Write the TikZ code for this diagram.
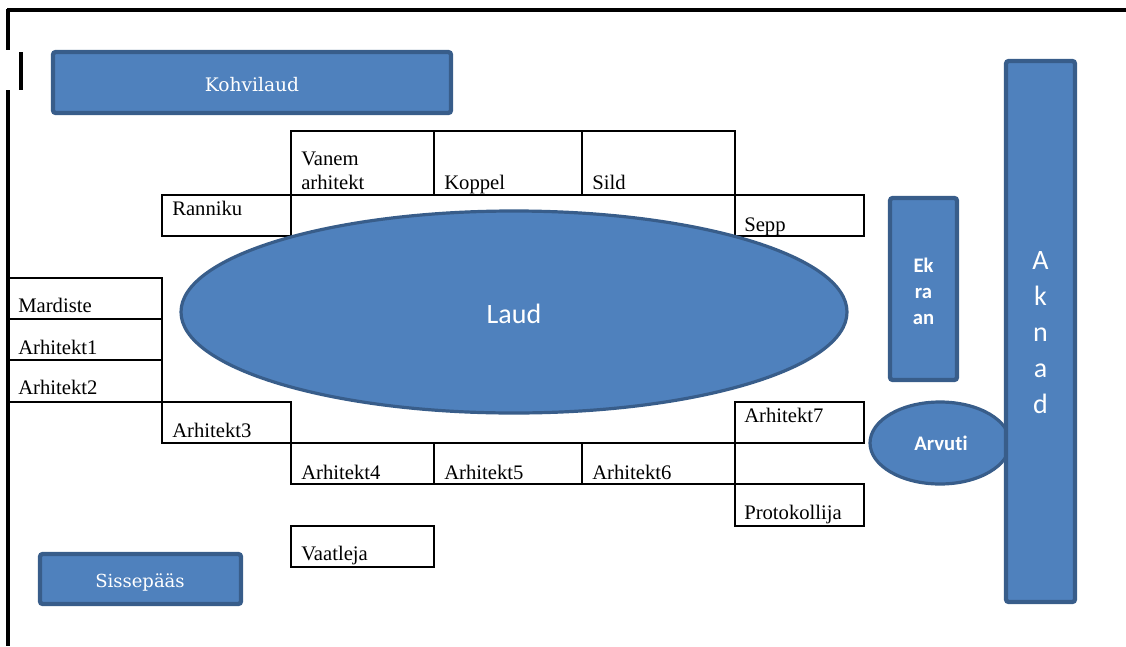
\documentclass[tikz,border=0pt]{standalone}
\usepackage{fontspec}
\setmainfont{Liberation Serif}
\newfontfamily\calfont[Ligatures=NoCommon]{Carlito}
\newfontfamily\slabfont{DejaVu Serif}
\usepackage{xcolor}
\definecolor{shapeblue}{HTML}{4F81BD}
\definecolor{shapeedge}{HTML}{385D8A}

\begin{document}
\begin{tikzpicture}[x=0.75pt, y=-0.75pt,
    cell/.style={draw=black, line width=1.5pt},
    lbl/.style={anchor=base west, inner sep=0pt, font=\fontsize{15.5}{18}\selectfont},
    wall/.style={draw=black, line width=2.4pt},
    bluebox/.style={fill=shapeblue, draw=shapeedge, line width=3.2pt, rounded corners=2pt},
    blueoval/.style={fill=shapeblue, draw=shapeedge, line width=2.4pt},
    whitetext/.style={text=white, inner sep=0pt}]
    \useasboundingbox (0,0) rectangle (1126,646);
    % walls and door
    \draw[wall] (7,10) -- (1126,10);
    \draw[wall] (8,9) -- (8,50);
    \draw[wall] (8,90) -- (8,646);
    \draw[wall] (21,52) -- (21,90);
    % coffee table and entrance
    \draw[bluebox] (53,52) rectangle (451,113);
    \node[whitetext, font=\slabfont\fontsize{14}{16}\selectfont] (kohvilaud) at (252,85) {Kohvilaud};
    \draw[bluebox] (40,554) rectangle (241,604);
    \node[whitetext, font=\slabfont\fontsize{13.5}{16}\selectfont] (sissepaas) at (140,582) {Sissepääs};
    % seats, top
    \draw[cell] (291,131) rectangle (434,195);
    \draw[cell] (434,131) rectangle (582,195);
    \draw[cell] (582,131) rectangle (735,195);
    \draw[cell] (162,195) rectangle (291,236);
    \draw[cell] (735,195) rectangle (864,236);
    \node[lbl] (vanem) at (301,165) {Vanem};
    \node[lbl] (vanem2) at (301,189) {arhitekt};
    \node[lbl] (koppel) at (444,189) {Koppel};
    \node[lbl] (sild) at (592,189) {Sild};
    \node[lbl] (ranniku) at (172,215) {Ranniku};
    \node[lbl] (sepp) at (744,231) {Sepp};
    % seats, left
    \draw[cell] (9,278) rectangle (162,319);
    \draw[cell] (9,319) rectangle (162,360);
    \draw[cell] (9,360) rectangle (162,402);
    \draw[cell] (162,402) rectangle (291,443);
    \node[lbl] (mardiste) at (18,312) {Mardiste};
    \node[lbl] (arh1) at (18,354) {Arhitekt1};
    \node[lbl] (arh2) at (18,394) {Arhitekt2};
    \node[lbl] (arh3) at (172,437) {Arhitekt3};
    % seats, bottom
    \draw[cell] (291,443) rectangle (434,484);
    \draw[cell] (434,443) rectangle (582,484);
    \draw[cell] (582,443) rectangle (735,484);
    \draw[cell] (735,402) rectangle (864,443);
    \draw[cell] (735,484) rectangle (864,526);
    \draw[cell] (291,526) rectangle (434,567);
    \node[lbl] (arh4) at (301,479) {Arhitekt4};
    \node[lbl] (arh5) at (444,479) {Arhitekt5};
    \node[lbl] (arh6) at (592,479) {Arhitekt6};
    \node[lbl] (arh7) at (744,422) {Arhitekt7};
    \node[lbl] (protokollija) at (744,519) {Protokollija};
    \node[lbl] (vaatleja) at (301,560) {Vaatleja};
    % table
    \draw[blueoval] (514,312) ellipse [x radius=333, y radius=101];
    \node[whitetext, font=\calfont\fontsize{21}{24}\selectfont] (laud) at (514,314) {Laud};
    % screen, computer, windows
    \draw[bluebox] (890,198) rectangle (957,380);
    \node[whitetext, align=center, font=\calfont\bfseries\fontsize{15.5}{19.5}\selectfont] (ekraan) at (923.5,291) {Ek\\ra\\an};
    \draw[blueoval] (940,443) ellipse [x radius=70, y radius=41];
    \node[whitetext, font=\calfont\bfseries\fontsize{15.5}{18}\selectfont] (arvuti) at (941,443) {Arvuti};
    \draw[bluebox] (1006,61) rectangle (1075,602);
    \node[whitetext, align=center, font=\calfont\fontsize{21}{27}\selectfont] (aknad) at (1040.5,333) {A\\k\\n\\a\\d};
\end{tikzpicture}
\end{document}
